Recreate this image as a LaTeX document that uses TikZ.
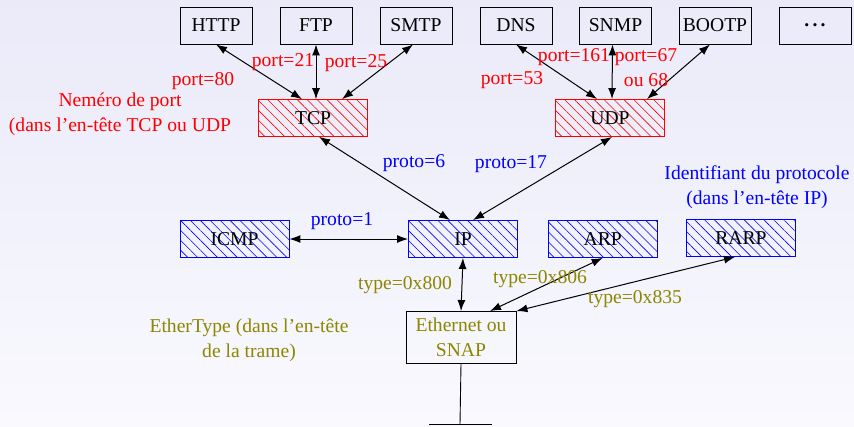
\documentclass[tikz,border=0pt]{standalone}
\usepackage{fontspec}
\setmainfont{Liberation Serif}
\usetikzlibrary{arrows.meta,patterns.meta,positioning}
\tikzset{
    >={Latex[length=11pt,width=8pt]},
    appbox/.style={draw, line width=0.9pt, minimum width=72pt, minimum height=37pt, inner sep=0pt},
    hatchbox/.style={draw=#1, line width=0.9pt, pattern={Lines[angle=-45,distance=7pt,line width=0.6pt]}, pattern color=#1, minimum width=109pt, minimum height=37pt, inner sep=0pt},
    link/.style={<->, line width=1pt},
    portlbl/.style={text=red, align=center},
    protolbl/.style={text=blue, align=center},
    typelbl/.style={text=olive, align=center}
}

\begin{document}
\begin{tikzpicture}[x=1pt, y=-1pt, font=\fontsize{19.6}{25}\selectfont]
    % background
    \shade[top color={rgb,255:red,234;green,234;blue,249}, bottom color={rgb,255:red,249;green,249;blue,254}] (0,0) rectangle (854,426);
    \useasboundingbox (0,0) rectangle (854,426);

    % applications
    \node[appbox] (http) at (216,25.5) {HTTP};
    \node[appbox] (ftp) at (316,25.5) {FTP};
    \node[appbox] (smtp) at (416,25.5) {SMTP};
    \node[appbox] (dns) at (516,25.5) {DNS};
    \node[appbox] (snmp) at (615.5,25.5) {SNMP};
    \node[appbox] (bootp) at (715,25.5) {BOOTP};
    \node[appbox] (more) at (815,25.5) {\raisebox{-1.5pt}{\textbf{.\,.\,.}}};

    % transport layer
    \node[hatchbox=red] (tcp) at (313,118) {TCP};
    \node[hatchbox=red] (udp) at (610,118) {UDP};

    % network layer
    \node[hatchbox=blue] (icmp) at (234.5,239) {ICMP};
    \node[hatchbox=blue] (ip) at (463,239) {IP};
    \node[hatchbox=blue] (arp) at (602.7,239) {ARP};
    \node[hatchbox=blue] (rarp) at (741,238) {RARP};

    % link layer
    \node[draw, line width=0.9pt, minimum width=110pt, minimum height=52pt, inner sep=0pt, typelbl] (eth) at (461,337.5) {Ethernet ou\\SNAP};
    \coordinate (ground) at (460,424);
    \draw[line width=0.9pt] (eth.south) -- (ground);
    \draw[line width=0.9pt] ([xshift=-31pt]ground) -- ([xshift=32pt]ground);

    % ports
    \draw[link] (http.south) -- ([xshift=-11pt]tcp.north);
    \draw[link] (ftp.south) -- ([xshift=3pt]tcp.north);
    \draw[link] ([xshift=-3pt]smtp.south) -- ([xshift=29pt]tcp.north);
    \draw[link] (dns.south) -- ([xshift=-13pt]udp.north);
    \draw[link] ([xshift=-3pt]snmp.south) -- ([xshift=2pt]udp.north);
    \draw[link] ([xshift=-5pt]bootp.south) -- ([xshift=37pt]udp.north);

    % protocols
    \draw[link] ([xshift=6pt]tcp.south) -- ([xshift=-13pt]ip.north);
    \draw[link] ([xshift=2pt]udp.south) -- ([xshift=10pt]ip.north);
    \draw[link] (icmp.east) -- (ip.west);

    % ethertypes
    \draw[link] (ip.south) -- (eth.north);
    \draw[link] (arp.south) -- ([xshift=29pt]eth.north);
    \draw[link] ([xshift=-6pt]rarp.south) -- (eth.north east);

    % port labels
    \node[portlbl] at (203,81) {port=80};
    \node[portlbl] at (283,62) {port=21};
    \node[portlbl] at (356,63) {port=25};
    \node[portlbl] at (512,80) {port=53};
    \node[portlbl] at (574,57) {port=161};
    \node[portlbl] at (646,67.5) {port=67\\ou 68};
    \node[portlbl] at (120,114.5) {Neméro de port\\(dans l’en-tête TCP ou UDP};

    % protocol labels
    \node[protolbl] at (414,163) {proto=6};
    \node[protolbl] at (511,164) {proto=17};
    \node[protolbl] at (342,221) {proto=1};
    \node[protolbl] at (757,187) {Identifiant du protocole\\(dans l’en-tête IP)};

    % type labels
    \node[typelbl] at (405,285) {type=0x800};
    \node[typelbl] at (540,279) {type=0x806};
    \node[typelbl] at (635,299) {type=0x835};
    \node[typelbl] at (249,340) {EtherType (dans l’en-tête\\de la trame)};
\end{tikzpicture}
\end{document}
